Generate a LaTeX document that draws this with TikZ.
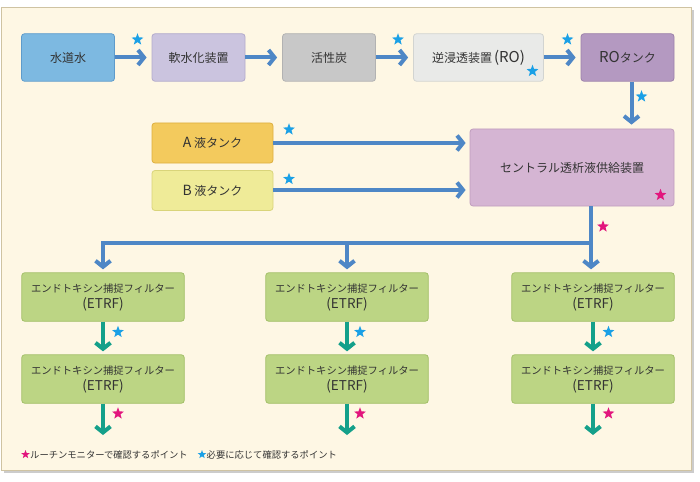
\documentclass[tikz,border=0pt]{standalone}
\usepackage{fontspec}
\setmainfont{Noto Sans CJK JP}
\usetikzlibrary{arrows.meta,shapes.geometric}
\newcommand\latx[2]{{\fontsize{#1}{#1}\selectfont #2}}
\definecolor{bgfill}{HTML}{FEF7E4}
\definecolor{bgdraw}{HTML}{CFC3A2}
\definecolor{arrblue}{HTML}{4E87C6}
\definecolor{arrgreen}{HTML}{14A08A}
\definecolor{starblue}{HTML}{1AA0E6}
\definecolor{starpink}{HTML}{E2157D}
\definecolor{txt}{HTML}{333333}
\definecolor{cwater}{HTML}{7DB9E1}\definecolor{dwater}{HTML}{5E9BCB}
\definecolor{csoft}{HTML}{CBC4DF}\definecolor{dsoft}{HTML}{B3ABCC}
\definecolor{ccarb}{HTML}{C8C8C8}\definecolor{dcarb}{HTML}{B2B2B2}
\definecolor{cro}{HTML}{E9EAE8}\definecolor{dro}{HTML}{D2D4D1}
\definecolor{crot}{HTML}{B499C1}\definecolor{drot}{HTML}{9D82AB}
\definecolor{ca}{HTML}{F3CA5D}\definecolor{da}{HTML}{DDAF3E}
\definecolor{cb}{HTML}{EFEB98}\definecolor{db}{HTML}{D9D47A}
\definecolor{ccen}{HTML}{D5B5D3}\definecolor{dcen}{HTML}{C09EBE}
\definecolor{cet}{HTML}{BCD584}\definecolor{det}{HTML}{A3BF68}
\tikzset{
  x=1pt,y=-1pt,
  box/.style={rounded corners=3pt,line width=0.8pt,text=txt,align=center,inner sep=0pt,font=\fontsize{12}{14}\selectfont},
  etrf/.style={box,fill=cet,draw=det,minimum width=162.5pt,minimum height=48.5pt,font=\fontsize{10.3}{16}\selectfont},
  barr/.style={draw=arrblue,line width=4pt,-{Straight Barb[length=6pt,width=15pt]}},
  bline/.style={draw=arrblue,line width=4pt},
  garr/.style={draw=arrgreen,line width=4pt,-{Straight Barb[length=6pt,width=15pt]}},
  bstar/.style={star,star points=5,star point ratio=2.4,fill=starblue,minimum size=12.5pt,inner sep=0pt},
  pstar/.style={star,star points=5,star point ratio=2.4,fill=starpink,minimum size=12.5pt,inner sep=0pt},
  sbstar/.style={bstar,minimum size=9pt},
  spstar/.style={pstar,minimum size=9pt},
  legend/.style={anchor=west,inner sep=0pt,text=txt,font=\fontsize{9.3}{10}\selectfont}
}
\begin{document}
\begin{tikzpicture}
\useasboundingbox (0,0) rectangle (700,481);
\fill[black!20] (4,10) rectangle (694,473);
\draw[fill=bgfill,draw=bgdraw,line width=0.8pt] (1.5,7.5) rectangle (691.5,470.5);
% row 1
\node[box,fill=cwater,draw=dwater,minimum width=93pt,minimum height=47.5pt] (water) at (68,57.5) {水道水};
\node[box,fill=csoft,draw=dsoft,minimum width=93pt,minimum height=47.5pt] (soft) at (198.5,57.5) {軟水化装置};
\node[box,fill=ccarb,draw=dcarb,minimum width=93pt,minimum height=47.5pt] (carb) at (329,57.5) {活性炭};
\node[box,fill=cro,draw=dro,minimum width=130pt,minimum height=47.5pt] (ro) at (478.5,57.5) {逆浸透装置\,\latx{15}{(RO)}};
\node[box,fill=crot,draw=drot,minimum width=93pt,minimum height=47.5pt] (rot) at (627.5,57.5) {\latx{15}{RO}タンク};
% row 2
\node[box,fill=ca,draw=da,minimum width=121pt,minimum height=40pt] (ta) at (212.5,143) {\latx{14}{A} 液タンク};
\node[box,fill=cb,draw=db,minimum width=121pt,minimum height=40pt] (tb) at (212.5,190.5) {\latx{14}{B} 液タンク};
\node[box,fill=ccen,draw=dcen,minimum width=204pt,minimum height=77pt] (cen) at (572,167.5) {セントラル透析液供給装置};
% ETRF
\node[etrf] (e11) at (103,297) {エンドトキシン捕捉フィルター\\\latx{13.5}{(ETRF)}};
\node[etrf] (e21) at (347,297) {エンドトキシン捕捉フィルター\\\latx{13.5}{(ETRF)}};
\node[etrf] (e31) at (593,297) {エンドトキシン捕捉フィルター\\\latx{13.5}{(ETRF)}};
\node[etrf] (e12) at (103,379) {エンドトキシン捕捉フィルター\\\latx{13.5}{(ETRF)}};
\node[etrf] (e22) at (347,379) {エンドトキシン捕捉フィルター\\\latx{13.5}{(ETRF)}};
\node[etrf] (e32) at (593,379) {エンドトキシン捕捉フィルター\\\latx{13.5}{(ETRF)}};
% row 1 arrows
\draw[barr,shorten >=5pt] (water.east) -- (soft.west);
\draw[barr,shorten >=5pt] (soft.east) -- (carb.west);
\draw[barr,shorten >=5pt] (carb.east) -- (ro.west);
\draw[barr,shorten >=5pt] (ro.east) -- (rot.west);
\draw[barr,shorten >=4pt] (rot.south -| 631.5,0) -- (cen.north -| 631.5,0);
\draw[barr,shorten >=4pt] (ta.east) -- (ta.east -| cen.west);
\draw[barr,shorten >=4pt] (tb.east |- 0,190) -- (cen.west |- 0,190);
% distribution
\coordinate (jr) at (591,243);
\coordinate (jl) at (103,243);
\coordinate (jm) at (347,243);
\draw[bline] (cen.south -| jr) -- (jr);
\draw[bline,line cap=rect] (jl) -- (jr);
\draw[barr,shorten >=3pt] (jr) -- (e31.north -| jr);
\draw[barr,shorten >=3pt] (jl) -- (e11.north);
\draw[barr,shorten >=3pt] (jm) -- (e21.north);
% green arrows
\draw[garr,shorten >=3pt] (e11.south) -- (e12.north);
\draw[garr,shorten >=3pt] (e21.south) -- (e22.north);
\draw[garr,shorten >=3pt] (e31.south) -- (e32.north);
\coordinate (o1) at (103,435);
\coordinate (o2) at (347,435);
\coordinate (o3) at (593,435);
\draw[garr] (e12.south) -- (o1);
\draw[garr] (e22.south) -- (o2);
\draw[garr] (e32.south) -- (o3);
% stars
\node[bstar] (s1) at (137.5,39.5) {};
\node[bstar] (s2) at (398,39.5) {};
\node[bstar] (s3) at (567.5,39.5) {};
\node[bstar] (s4) at (532.5,71) {};
\node[bstar] (s5) at (641.5,96.5) {};
\node[bstar] (s6) at (289,129.5) {};
\node[bstar] (s7) at (289,179) {};
\node[pstar] (s8) at (660.5,195) {};
\node[pstar] (s9) at (603,226.5) {};
\node[bstar] (s10) at (118,332) {};
\node[bstar] (s11) at (360,332) {};
\node[bstar] (s12) at (608.5,332) {};
\node[pstar] (s13) at (118,413.5) {};
\node[pstar] (s14) at (360,413.5) {};
\node[pstar] (s15) at (608.5,413.5) {};
% legend
\node[spstar] (l1) at (25.5,454.5) {};
\node[legend] (lt1) at (30,454.5) {ルーチンモニターで確認するポイント};
\node[sbstar] (l2) at (202,454.5) {};
\node[legend] (lt2) at (206.5,454.5) {必要に応じて確認するポイント};
\end{tikzpicture}
\end{document}
